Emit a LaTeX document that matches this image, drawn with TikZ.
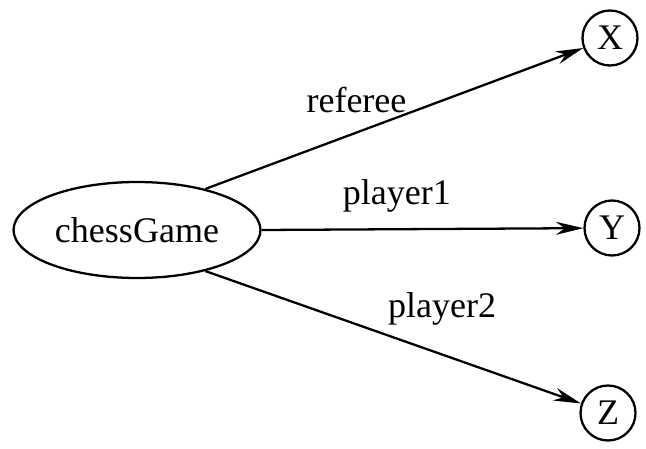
\documentclass[tikz,border=0pt]{standalone}
\usepackage{fontspec}
\setmainfont{Liberation Serif}
\usetikzlibrary{shapes.geometric,arrows.meta}

\begin{document}
\begin{tikzpicture}[x=0.02cm,y=-0.02cm,
    every node/.style={font=\fontsize{20.5}{24}\selectfont},
    entity/.style={draw,ellipse,line width=1.3pt,minimum width=4.94cm,minimum height=1.92cm,inner sep=0pt},
    value/.style={draw,circle,line width=1.3pt,minimum size=1.1cm,inner sep=0pt},
    role/.style={line width=1.3pt,-{Stealth[length=0.55cm,width=0.26cm]}}]
    \useasboundingbox (0,0) rectangle (646,449);
    \node[entity] (game) at (137,230) {chessGame};
    \node[value] (x) at (610,38) {X};
    \node[value] (y) at (612,228) {Y};
    \node[value] (z) at (608,413) {Z};
    \draw[role] (game.31) -- (x) node[pos=0.40,above=0.26cm] {referee};
    \draw[role] (game.east) -- (y) node[pos=0.42,above=0.2cm] {player1};
    \draw[role] (game.-31) -- (z) node[pos=0.63,above=0.45cm] {player2};
\end{tikzpicture}
\end{document}
